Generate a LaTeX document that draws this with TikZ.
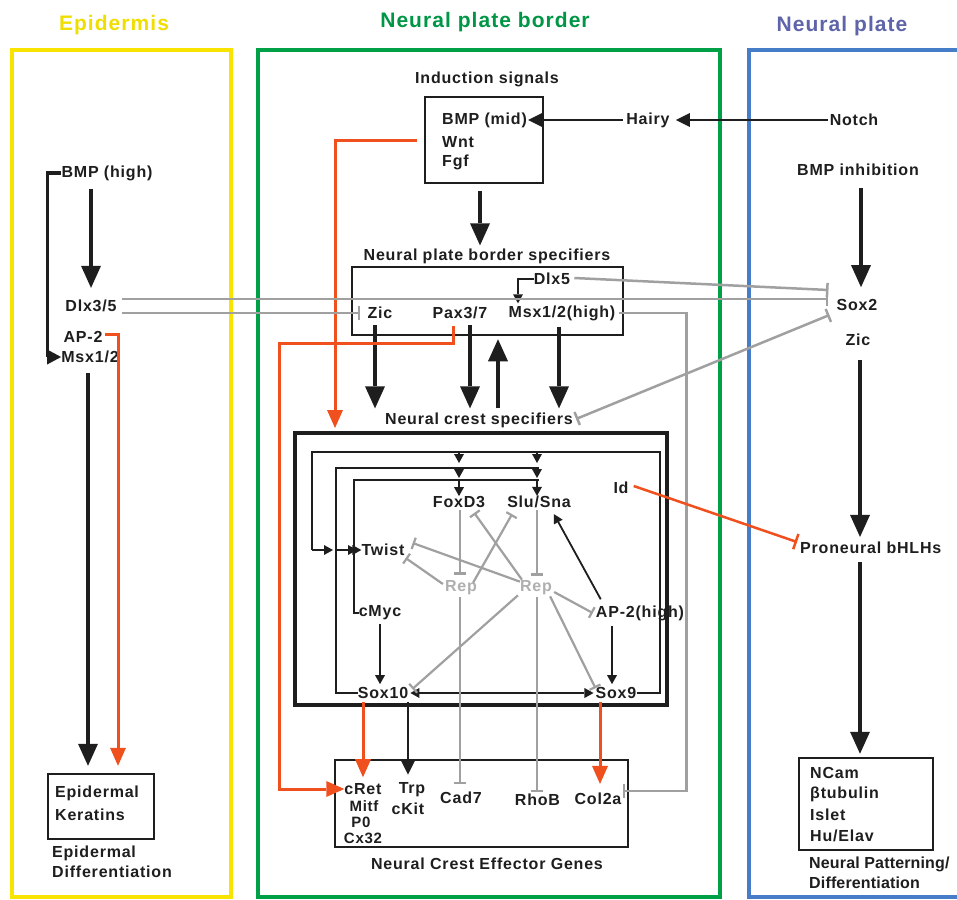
\documentclass[tikz,border=0pt]{standalone}
\usepackage{fontspec}
\setmainfont{Liberation Sans}[LetterSpace=5]
\usetikzlibrary{arrows.meta,calc}
\definecolor{nyellow}{RGB}{248,228,0}
\definecolor{ngreen}{RGB}{0,160,70}
\definecolor{nblue}{RGB}{70,125,200}
\definecolor{tyellow}{RGB}{240,222,0}
\definecolor{tgreen}{RGB}{0,150,70}
\definecolor{tblue}{RGB}{95,100,170}
\definecolor{nred}{RGB}{240,80,30}
\definecolor{ngray}{RGB}{160,160,160}
\definecolor{repgray}{RGB}{175,175,175}
\definecolor{txt}{RGB}{30,30,30}
\newcommand\labfont{\fontsize{16}{20}\selectfont\bfseries}
\newcommand\smlfont{\fontsize{15}{19}\selectfont\bfseries}
\newcommand\ttlfont{\fontsize{21}{24}\selectfont\bfseries}
\begin{document}
\begin{tikzpicture}[x=1pt,y=-1pt,
  lab/.style={font=\labfont, text=txt, inner sep=0pt},
  sml/.style={font=\smlfont, text=txt, inner sep=0pt},
  ttl/.style={font=\ttlfont, inner sep=0pt},
  boxn/.style={draw=txt, line width=2.5pt, inner sep=0pt},
  bigarr/.style={draw=txt, line width=4pt, -{Triangle[width=20pt,length=22pt,line width=0pt]}},
  midarr/.style={draw=txt, line width=2.5pt, -{Triangle[width=14pt,length=14pt,line width=0pt]}},
  sarr/.style={draw=txt, line width=1.8pt, -{Triangle[width=10pt,length=9pt,line width=0pt]}},
  loopln/.style={draw=txt, line width=2pt},
  redarr/.style={draw=nred, line width=3pt, -{Triangle[width=16pt,length=18pt,line width=0pt]}},
  inh/.style={draw=ngray, line width=2.5pt, -{Bar[width=14pt,line width=2.5pt]}},
  inhtwo/.style={draw=ngray, line width=2.5pt, {Bar[width=14pt,line width=2.5pt]}-{Bar[width=14pt,line width=2.5pt]}},
  ginh/.style={draw=ngray, line width=2.2pt, -{Bar[width=12pt,line width=2.2pt]}}
]
\useasboundingbox (0,0) rectangle (957,899);
\clip (0,0) rectangle (957,899);
\fill[white] (0,0) rectangle (957,899);

% region frames
\draw[nyellow, line width=4pt] (12,50) rectangle (231,897);
\draw[ngreen, line width=4pt] (258,50) rectangle (720,897);
\draw[nblue, line width=3.5pt] (749,50) rectangle (990,897);

% titles
\node[ttl, text=tyellow] (tepi) at (114,25) {Epidermis};
\node[ttl, text=tgreen] (tnpb) at (485,22) {Neural plate border};
\node[ttl, text=tblue] (tnp) at (842,26) {Neural plate};

% ---------- Epidermis ----------
\node[lab] (bmph) at (107,173) {BMP (high)};
\node[lab] (dlx35) at (91,306) {Dlx3/5};
\node[lab] (ap2) at (83,337) {AP-2};
\node[lab] (msx12) at (90,357) {Msx1/2};
\node[boxn, minimum width=106pt, minimum height=65pt] (epibox) at (101,806.5) {};
\node[lab, anchor=west] (epid) at (55,793) {Epidermal};
\node[lab, anchor=west] (kerat) at (55,815) {Keratins};
\node[lab, anchor=north west, align=left] (epidiff) at (52,846) {Epidermal\\Differentiation};

\draw[draw=txt, line width=3.5pt, -{Triangle[width=15pt,length=14pt,line width=0pt]}]
  (bmph.west) -- ++(-14,0) |- (msx12.west);
\draw[bigarr, shorten <=8pt, shorten >=12pt] (bmph.south -| dlx35.north) -- (dlx35.north);
\draw[bigarr] ($(msx12.south)+(-2,10)$) -- ($(msx12.south |- epibox.north)+(-2,-7)$);
\draw[redarr] ($(ap2.east)+(2,-3)$) -| ($(epibox.north)+(17,-7)$);

% ---------- Neural plate ----------
\node[lab] (bmpinh) at (858,170) {BMP inhibition};
\node[lab] (sox2) at (857,305) {Sox2};
\node[lab] (zicr) at (858,340) {Zic};
\node[lab, anchor=west] (pron) at (800,548) {Proneural bHLHs};
\node[boxn, minimum width=134pt, minimum height=92pt] (nbox) at (866,804) {};
\node[lab, anchor=west] (ncam) at (810,773) {NCam};
\node[lab, anchor=west] (btub) at (810,794) {βtubulin};
\node[lab, anchor=west] (islet) at (810,815) {Islet};
\node[lab, anchor=west] (huelav) at (810,836) {Hu/Elav};
\node[lab, font=\labfont\addfontfeature{LetterSpace=1}, anchor=north west, align=left] (npd) at (809,857) {Neural Patterning/\\Differentiation};

\draw[bigarr, shorten <=12pt, shorten >=12pt] ($(bmpinh.south)+(3,0)$) -- ($(sox2.north)+(4,0)$);
\draw[bigarr, shorten <=14pt, shorten >=5pt] ($(zicr.south)+(2,0)$) -- ($(zicr.south |- pron.north)+(2,0)$);
\draw[bigarr, shorten <=8pt, shorten >=3pt] ($(zicr.south |- pron.south)+(2,0)$) -- ($(zicr.south |- nbox.north)+(2,0)$);

% ---------- Neural plate border ----------
\node[lab] (induct) at (487,79) {Induction signals};
\node[boxn, minimum width=118pt, minimum height=86pt] (indbox) at (484,140) {};
\node[lab, anchor=west] (bmpmid) at (442,120) {BMP (mid)};
\node[lab, anchor=west] (wnt) at (442,142) {Wnt};
\node[lab, anchor=west] (fgf) at (442,162) {Fgf};
\node[lab] (hairy) at (648,120) {Hairy};
\node[lab] (notch) at (854,120) {Notch};
\draw[midarr, shorten <=2pt, shorten >=6pt] (notch.west) -- (hairy.east);
\draw[midarr, shorten <=3pt, shorten >=1pt] (hairy.west) -- (bmpmid.east);

\node[lab] (npbs) at (487,256) {Neural plate border specifiers};
\node[boxn, minimum width=271pt, minimum height=68pt] (npbbox) at (487.5,301) {};
\node[lab] (dlx5) at (552,279) {Dlx5};
\node[lab] (zic) at (380,313) {Zic};
\node[lab] (pax) at (460,313) {Pax3/7};
\node[lab] (msxh) at (562,313) {Msx1/2(high)};
\node[lab] (ncs) at (479,420) {Neural crest specifiers};
\coordinate (ncin) at (335,428);

\draw[bigarr, shorten <=7pt, shorten >=3pt] ($(indbox.south)+(-4,0)$) -- ($(npbs.north)+(-7,0)$);
\draw[redarr] ($(indbox.west)+(-7,0)$) -| (ncin);
\draw[sarr] (dlx5.west) -| ($(msxh.north)+(-44,-2)$);
\draw[bigarr, shorten <=6pt, shorten >=4pt] ($(zic.south)+(-5,0)$) -- ($(zic.south |- ncs.north)+(-5,0)$);
\draw[bigarr, shorten <=6pt, shorten >=4pt] ($(pax.south)+(10,0)$) -- ($(pax.south |- ncs.north)+(10,0)$);
\draw[bigarr, shorten <=6pt, shorten >=4pt] ($(msxh.south)+(-3,0)$) -- ($(msxh.south |- ncs.north)+(-3,0)$);
\draw[bigarr, shorten <=4pt, shorten >=3pt] ($(ncs.north)+(19,0)$) -- ($(npbbox.south)+(10.5,0)$);

% gray repression lines across regions
\draw[inh] ($(dlx35.east)+(5,-7)$) -- ($(sox2.west)+(-8,-6)$);
\draw[inh] ($(dlx35.east)+(5,7)$) -- ($(zic.west)+(-7,0)$);
\draw[inh] ($(dlx5.east)+(4,-1)$) -- ($(sox2.west)+(-8,-15)$);
\draw[inhtwo] ($(ncs.east)+(3,-1)$) -- ($(sox2.west)+(-7,10)$);

% ---------- Neural crest specifier box ----------
\node[boxn, line width=3.5pt, minimum width=372pt, minimum height=272pt] (ncbox) at (481,569) {};
\node[lab] (foxd3) at (459,502) {FoxD3};
\node[lab] (slusna) at (539,502) {Slu/Sna};
\node[lab] (twist) at (383,550) {Twist};
\node[lab, text=repgray] (repl) at (461,588) {Rep};
\node[lab, text=repgray] (repr) at (536,588) {Rep};
\node[lab] (id) at (621,488) {Id};
\node[lab] (cmyc) at (380,613) {cMyc};
\node[lab] (ap2h) at (640,613) {AP-2(high)};
\node[lab] (sox10) at (383,693) {Sox10};
\node[lab] (sox9) at (616,693) {Sox9};

\coordinate (ja) at (312,550); \coordinate (ja2) at (333,550);
\coordinate (jb) at (336,550); \coordinate (jb2) at (357,550);
\coordinate (jc) at (354,550);
\draw[loopln] (sox9.east) -| (660,452) -| (ja);
\draw[sarr] (ja) -- (ja2);
\draw[loopln] (sox10.west) -| (336,468) -- (539,468);
\draw[sarr] (jb) -- (jb2);
\draw[loopln] (cmyc.west) -| (354,480) -- (539,480);
\draw[sarr] (jc) -- (twist.west);
\foreach \xx in {459,537} {
  \coordinate (da\xx) at (\xx,452); \coordinate (db\xx) at (\xx,463);
  \coordinate (dc\xx) at (\xx,468); \coordinate (dd\xx) at (\xx,478);
  \coordinate (de\xx) at (\xx,480);
  \draw[sarr] (da\xx) -- (db\xx);
  \draw[sarr] (dc\xx) -- (dd\xx);
}
\draw[sarr] (de459) -- (foxd3.north);
\draw[sarr] (de537) -- ($(slusna.north)+(-2,0)$);

\draw[sarr, shorten <=4pt, shorten >=3pt] (cmyc.south) -- (cmyc.south |- sox10.north);
\draw[sarr, shorten <=5pt, shorten >=3pt] ($(sox9.north |- ap2h.south)+(-4,0)$) -- ($(sox9.north)+(-4,0)$);
\draw[sarr] ($(ap2h.north west)+(5,-6)$) -- ($(slusna.south east)+(-17,6)$);
\draw[draw=txt, line width=1.8pt, {Triangle[width=10pt,length=9pt,line width=0pt]}-{Triangle[width=10pt,length=9pt,line width=0pt]}, shorten <=2pt, shorten >=2pt] (sox10.east) -- (sox9.west);

\draw[ginh] ($(foxd3.south)+(1,2)$) -- ($(repl.north)+(-1,-6)$);
\draw[ginh] ($(repr.north |- slusna.south)+(1,2)$) -- ($(repr.north)+(1,-5)$);
\draw[ginh] ($(repl.west)+(-2,-4)$) -- ($(twist.east)+(1,8)$);
\draw[ginh] ($(repr.north west)+(0,1)$) -- ($(twist.east)+(8,-7)$);
\draw[ginh] ($(repl.north east)+(-4,2)$) -- ($(slusna.south west)+(5,6)$);
\draw[ginh] ($(repr.north west)+(2,-1)$) -- ($(foxd3.south east)+(-11,5)$);
\draw[ginh] ($(repr.east)+(2,4)$) -- ($(ap2h.west)+(-3,0)$);
\draw[ginh] ($(repr.south west)+(-2,0)$) -- ($(sox10.east)+(4,-4)$);
\draw[ginh] ($(repr.south east)+(-2,1)$) -- ($(sox9.north west)+(0,1)$);

% ---------- Effector genes ----------
\node[boxn, minimum width=293pt, minimum height=87pt] (effbox) at (481.5,803.5) {};
\node[lab] (cret) at (363,789) {cRet};
\node[sml] (mitf) at (364,806) {Mitf};
\node[sml] (p0) at (361,822) {P0};
\node[sml] (cx32) at (363,838) {Cx32};
\node[lab] (trp) at (412,790) {Trp};
\node[lab] (ckit) at (408,809) {cKit};
\node[lab] (cad7) at (461,798) {Cad7};
\node[lab] (rhob) at (537.5,800) {RhoB};
\node[lab] (col2a) at (598,799) {Col2a};
\node[lab] (neg) at (487,864) {Neural Crest Effector Genes};

\draw[ginh] ($(repl.south)+(-1,2)$) -- ($(repl.south |- cad7.north)+(-1,-8)$);
\draw[ginh] ($(repr.south)+(1,2)$) -- ($(repr.south |- rhob.north)+(1,-2)$);
\draw[redarr] ($(pax.south)+(-7,7)$) |- (279,343) |- (cret.west);
\draw[redarr, shorten <=3pt, shorten >=6pt] (cret.north |- sox10.south) -- (cret.north);
\draw[midarr, shorten <=3pt, shorten >=8pt] ($(trp.north |- sox10.south)+(-4,0)$) -- ($(trp.north)+(-4,0)$);
\draw[redarr, shorten <=3pt, shorten >=9pt] ($(col2a.north |- sox9.south)+(2,0)$) -- ($(col2a.north)+(2,0)$);
\draw[inh] ($(msxh.east)+(3,0)$) -| ($(col2a.east)+(65,-8)$) -- ($(col2a.east)+(1,-8)$);

\draw[draw=nred, line width=2.5pt, -{Bar[width=16pt,line width=2.5pt]}] ($(id.east)+(5,-2)$) -- ($(pron.west)+(-3,-6)$);
\end{tikzpicture}
\end{document}
